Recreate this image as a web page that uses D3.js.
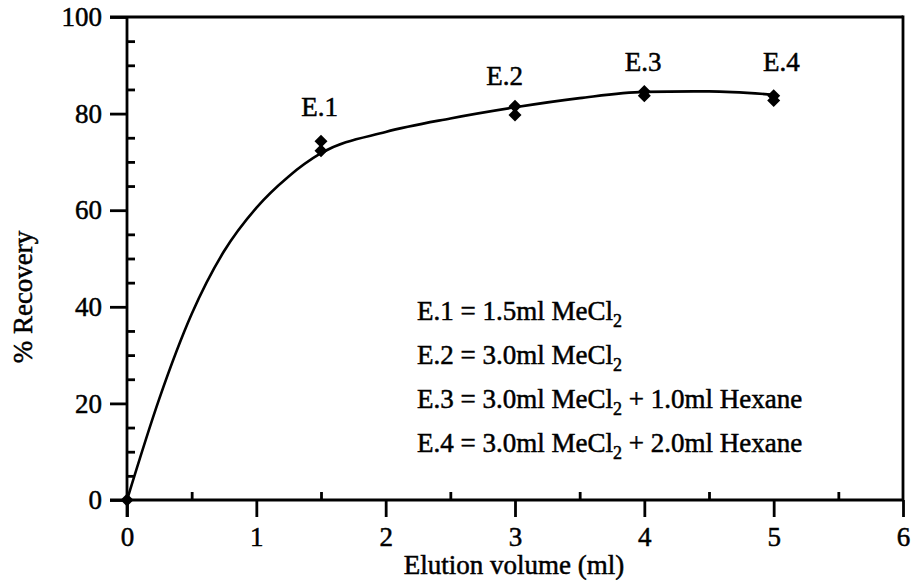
<!DOCTYPE html>
<html>
<head>
<meta charset="utf-8">
<script src="https://cdn.jsdelivr.net/npm/d3@7"></script>
<style>
  html, body { margin: 0; padding: 0; background: #fff; }
  svg { display: block; }
  text { font-family: "Liberation Serif", "Times New Roman", serif; fill: #000; stroke: #000; stroke-width: 0.5px; }
</style>
</head>
<body>
<svg id="chart" width="914" height="586"></svg>
<script>
// ---- data ----
const xTicks = [0, 1, 2, 3, 4, 5, 6];
const yTicks = [0, 20, 40, 60, 80, 100];
const xMinorTicks = [0.5, 1.5, 2.5, 3.5, 4.5, 5.5];
const yMinorTicks = [5, 10, 15, 25, 30, 35, 45, 50, 55, 65, 70, 75, 85, 90, 95];

// measured points (elution volume ml, % recovery)
const pointX = [0, 1.5, 1.5, 3, 3, 4, 4, 5, 5];
const pointY = [0, 74.3, 72.3, 81.5, 79.7, 84.6, 83.7, 83.7, 82.7];

// fitted curve
const curveX = [0, 0.25, 0.5, 0.75, 1.0, 1.25, 1.5, 2.0, 2.5, 3.0, 3.5, 4.0, 4.5, 5.0];
const curveY = [0, 21, 38.5, 51.5, 60.5, 67, 71.8, 76.2, 79, 81.3, 83.2, 84.5, 84.6, 83.9];

// point labels
const labelText = ["E.1", "E.2", "E.3", "E.4"];
const labelX = [1.49, 2.92, 3.99, 5.06];
const labelY = [79.6, 86.0, 88.8, 88.8];

// legend lines: text before subscript, subscript, text after
const legendPre = ["E.1 = 1.5ml MeCl", "E.2 = 3.0ml MeCl", "E.3 = 3.0ml MeCl", "E.4 = 3.0ml MeCl"];
const legendSub = ["2", "2", "2", "2"];
const legendPost = ["", "", " + 1.0ml Hexane", " + 2.0ml Hexane"];

const xTitle = "Elution volume (ml)";
const yTitle = "% Recovery";

// ---- layout ----
const svg = d3.select("#chart");
const x = d3.scaleLinear().domain([0, 6]).range([127, 903]);
const y = d3.scaleLinear().domain([0, 100]).range([500, 17]);
const FS = 27;
const SW = 2.8;

// frame top and right
svg.append("line").attr("x1", 110).attr("x2", x(6)).attr("y1", y(100)).attr("y2", y(100))
  .attr("stroke", "#000").attr("stroke-width", SW);
svg.append("line").attr("x1", x(6)).attr("x2", x(6)).attr("y1", y(100) - SW / 2).attr("y2", y(0))
  .attr("stroke", "#000").attr("stroke-width", SW);

// x axis major (outward)
const gx = svg.append("g").attr("transform", `translate(0,${y(0)})`)
  .call(d3.axisBottom(x).tickValues(xTicks).tickSize(17).tickPadding(10).tickFormat(d3.format("d")));
// x axis minor (inward)
const gxm = svg.append("g").attr("transform", `translate(0,${y(0)})`)
  .call(d3.axisBottom(x).tickValues(xMinorTicks).tickSize(-8).tickFormat(""));
// y axis major (outward)
const gy = svg.append("g").attr("transform", `translate(${x(0)},0)`)
  .call(d3.axisLeft(y).tickValues(yTicks).tickSize(17).tickPadding(8).tickFormat(d3.format("d")));
// y axis minor (inward)
const gym = svg.append("g").attr("transform", `translate(${x(0)},0)`)
  .call(d3.axisLeft(y).tickValues(yMinorTicks).tickSize(-8).tickFormat(""));

[gx, gxm, gy, gym].forEach(g => {
  g.select(".domain").attr("stroke", "#000").attr("stroke-width", SW);
  g.selectAll(".tick line").attr("stroke", "#000").attr("stroke-width", SW);
  g.selectAll(".tick text").attr("font-size", FS).attr("font-family", "Liberation Serif").attr("fill", "#000");
});
gx.select(".domain").attr("d", `M110,0H${x(6)}`);
gy.select(".domain").attr("d", `M0,${y(100)}V${y(0) + 17}`);
gxm.select(".domain").remove();
gym.select(".domain").remove();

// curve
const curveData = curveX.map((v, i) => [v, curveY[i]]);
svg.append("path").datum(curveData)
  .attr("fill", "none").attr("stroke", "#000").attr("stroke-width", 2.6)
  .attr("d", d3.line().x(d => x(d[0])).y(d => y(d[1])).curve(d3.curveMonotoneX));

// diamond markers
const diamond = (cx, cy, r) => `M${cx},${cy - r}L${cx + r},${cy}L${cx},${cy + r}L${cx - r},${cy}Z`;
svg.append("g").selectAll("path").data(pointX.map((v, i) => [v, pointY[i]])).join("path")
  .attr("d", d => diamond(x(d[0]), y(d[1]), 6.5))
  .attr("fill", "#000");

// point labels
svg.append("g").selectAll("text").data(labelText).join("text")
  .attr("x", (d, i) => x(labelX[i])).attr("y", (d, i) => y(labelY[i]))
  .attr("text-anchor", "middle").attr("font-size", FS).text(d => d);

// legend
const leg = svg.append("g");
legendPre.forEach((t, i) => {
  const tx = leg.append("text").attr("x", 417).attr("y", 320 + i * 44).attr("font-size", FS);
  tx.append("tspan").text(t);
  tx.append("tspan").attr("font-size", 18).attr("dy", 7).text(legendSub[i]);
  if (legendPost[i]) tx.append("tspan").attr("dy", -7).text(legendPost[i]);
});

// axis titles
svg.append("text").attr("x", 514).attr("y", 574).attr("text-anchor", "middle")
  .attr("font-size", FS).text(xTitle);
svg.append("text").attr("transform", "translate(32,297) rotate(-90)")
  .attr("text-anchor", "middle").attr("font-size", FS).text(yTitle);
</script>
</body>
</html>
